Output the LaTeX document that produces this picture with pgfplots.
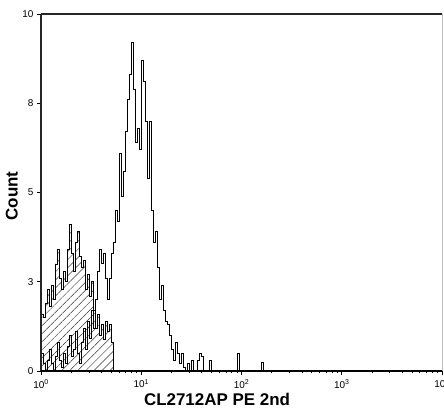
\documentclass[border=0pt]{standalone}
\usepackage{fontspec}
\setmainfont{Liberation Sans}
\usepackage{pgfplots}
\pgfplotsset{compat=1.18}
\usetikzlibrary{patterns.meta}
\begin{document}
\begin{tikzpicture}
\begin{axis}[
  name=ax,
  scale only axis,
  width=401bp, height=357bp,
  xmin=0, xmax=4, ymin=0, ymax=10,
  axis line style={draw=none},
  xtick={0,1,2,3,4},
  xticklabels={10\textsuperscript{0},10\textsuperscript{1},10\textsuperscript{2},10\textsuperscript{3},10\textsuperscript{4}},
  minor xtick={0.301,0.477,0.602,0.699,0.778,0.845,0.903,0.954,
               1.301,1.477,1.602,1.699,1.778,1.845,1.903,1.954,
               2.301,2.477,2.602,2.699,2.778,2.845,2.903,2.954,
               3.301,3.477,3.602,3.699,3.778,3.845,3.903,3.954},
  ytick={0,2.5,5,7.5,10},
  yticklabels={0,3,5,8,10},
  xtick pos=left, ytick pos=left,
  tick align=outside,
  major tick length=4bp, minor tick length=2bp,
  tick style={black, line width=0.6bp},
  ticklabel style={font=\fontsize{10}{12}\selectfont},
  xticklabel style={yshift=-1bp},
  yticklabel style={xshift=0bp},
  xlabel={CL2712AP PE 2nd},
  xlabel style={at={(axis description cs:0.439,0)}, anchor=north, inner sep=0pt, yshift=-22bp, font=\fontsize{17}{20}\selectfont\bfseries},
  ylabel={Count},
  ylabel style={at={(axis description cs:-0.0574,0.49)}, anchor=south, inner sep=0pt, font=\fontsize{17}{20}\selectfont\bfseries},
]
% control (hatched)
\addplot[const plot mark left, draw=black, line width=0.7bp,
  pattern={Lines[angle=45,distance=5.7bp,line width=0.5bp]}, pattern color=black!80]
coordinates {
(0.00,1.6)(0.02,1.5)(0.04,1.9)(0.06,2.3)(0.08,1.8)(0.10,2.4)(0.12,2.0)(0.14,3.0)
(0.16,3.4)(0.18,2.6)(0.20,2.3)(0.22,2.8)(0.24,2.5)(0.26,3.4)(0.28,4.1)(0.30,3.3)
(0.32,2.8)(0.34,3.6)(0.36,3.9)(0.38,3.2)(0.40,2.9)(0.42,3.1)(0.44,2.3)(0.46,2.7)
(0.48,2.1)(0.50,2.5)(0.52,1.7)(0.54,1.2)(0.56,1.6)(0.58,1.0)(0.60,1.3)(0.62,0.9)
(0.64,1.4)(0.66,1.1)(0.68,1.3)(0.70,0.8)(0.72,0)
} \closedcycle;
% sample
\addplot[const plot mark left, draw=black, line width=0.8bp]
coordinates {
(0.00,0.5)(0.02,0.2)(0.04,0.0)(0.06,0.3)(0.08,0.6)(0.10,0.2)(0.12,0.0)(0.14,0.4)
(0.16,0.8)(0.18,0.3)(0.20,0.1)(0.22,0.5)(0.24,0.2)(0.26,0.7)(0.28,1.0)(0.30,0.4)
(0.32,0.6)(0.34,1.1)(0.36,0.5)(0.38,0.2)(0.40,0.8)(0.42,1.2)(0.44,0.6)(0.46,1.4)
(0.48,0.9)(0.50,1.7)(0.52,1.2)(0.54,2.0)(0.56,2.8)(0.58,3.4)(0.60,3.0)(0.62,3.3)
(0.64,2.6)(0.66,2.0)(0.68,2.6)(0.70,3.3)(0.72,3.6)(0.74,4.5)(0.76,4.2)(0.78,6.1)
(0.80,4.9)(0.82,5.6)(0.84,6.7)(0.86,7.6)(0.88,8.3)(0.90,9.2)(0.92,7.9)(0.94,6.4)
(0.96,6.8)(0.98,6.2)(1.00,8.7)(1.02,8.1)(1.04,7.0)(1.06,5.4)(1.08,7.0)(1.10,4.5)
(1.12,3.6)(1.14,3.9)(1.16,2.9)(1.18,2.0)(1.20,2.4)(1.22,1.7)(1.24,1.4)(1.26,1.3)
(1.28,1.0)(1.30,0.6)(1.32,0.3)(1.34,0.8)(1.36,0.5)(1.38,0.2)(1.40,0.5)(1.42,0.1)
(1.44,0.0)(1.46,0.2)(1.48,0.0)(1.50,0.3)(1.52,0.0)(1.56,0.3)(1.58,0.5)(1.60,0.4)
(1.62,0.0)(1.68,0.3)(1.70,0.0)(1.96,0.5)(1.98,0.0)(2.20,0.25)(2.22,0.0)(2.30,0.0)
};
\end{axis}
\draw[line width=2.6bp, black!85] (ax.south west) -- (ax.north west);
\draw[line width=1.6bp] (ax.south west) -- (ax.south east);
\draw[line width=1.6bp, black!85] (ax.north west) -- (ax.north east);
\draw[line width=0.8bp, gray!50] (ax.south east) -- (ax.north east);
\pgfresetboundingbox
\path[use as bounding box] ([xshift=-41bp,yshift=-37bp]ax.south west) rectangle ([xshift=2bp,yshift=14bp]ax.north east);
\end{tikzpicture}
\end{document}
